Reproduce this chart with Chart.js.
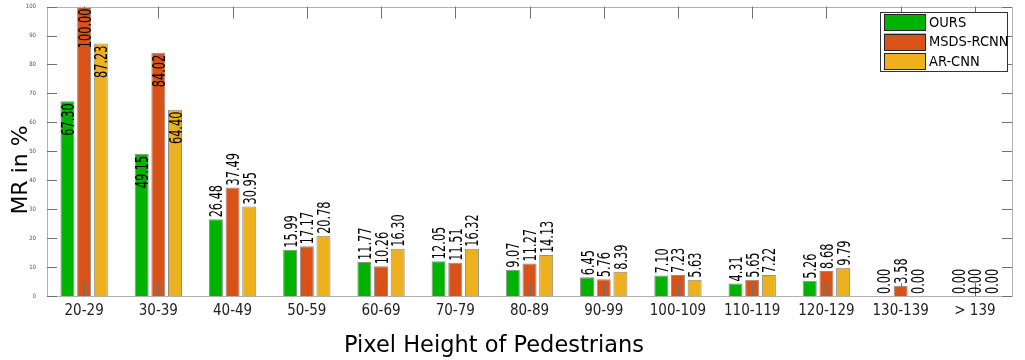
<!DOCTYPE html>
<html><head><meta charset="utf-8">
<script src="https://cdn.jsdelivr.net/npm/chart.js@4"></script>
<style>html,body{margin:0;padding:0;background:#fff}#wrap{width:1025px;height:360px}</style>
</head><body><div id="wrap"><canvas id="c" width="1025" height="360"></canvas></div>
<script>
const categories = ['20-29','30-39','40-49','50-59','60-69','70-79','80-89','90-99','100-109','110-119','120-129','130-139','> 139'];
const seriesNames = ['OURS','MSDS-RCNN','AR-CNN'];
const ours  = [67.30, 49.15, 26.48, 15.99, 11.77, 12.05, 9.07, 6.45, 7.10, 4.31, 5.26, 0.00, 0.00];
const msds  = [100.00, 84.02, 37.49, 17.17, 10.26, 11.51, 11.27, 5.76, 7.23, 5.65, 8.68, 3.58, 0.00];
const arcnn = [87.23, 64.40, 30.95, 20.78, 16.30, 16.32, 14.13, 8.39, 5.63, 7.22, 9.79, 0.00, 0.00];
const yTicks = [0,10,20,30,40,50,60,70,80,90,100];
const xTitle = 'Pixel Height of Pedestrians';
const yTitle = 'MR in %';

const colors = ['#00b300','#d95319','#edb120'];
const FRAME = '#b0b0b0';
const COND = '"DejaVu Sans Condensed", "DejaVu Sans", sans-serif';

const overlay = {
  id: 'overlay',
  afterDatasetsDraw(chart) {
    const ctx = chart.ctx;
    const a = chart.chartArea;
    const xs = chart.scales.x, ys = chart.scales.y;
    ctx.save();
    // frame
    ctx.strokeStyle = FRAME; ctx.lineWidth = 1;
    ctx.beginPath();
    ctx.rect(Math.round(a.left)+0.5, Math.round(a.top)+0.5, Math.round(a.right-a.left), Math.round(a.bottom-a.top));
    ctx.stroke();
    // inward ticks
    ctx.strokeStyle = '#707070';
    ctx.beginPath();
    xs.ticks.forEach((t,i) => {
      const px = Math.round(xs.getPixelForTick(i)) + 0.5;
      ctx.moveTo(px, a.bottom); ctx.lineTo(px, a.bottom - 13);
      ctx.moveTo(px, a.top); ctx.lineTo(px, a.top + 12);
    });
    ys.ticks.forEach((t,i) => {
      const py = Math.round(ys.getPixelForTick(i)) + 0.5;
      ctx.moveTo(a.left, py); ctx.lineTo(a.left + 10, py);
      ctx.moveTo(a.right, py); ctx.lineTo(a.right - 10, py);
    });
    ctx.stroke();
    // value labels
    const fs = 18;
    ctx.fillStyle = '#000';
    ctx.font = fs + 'px ' + COND;
    chart.data.datasets.forEach((ds, di) => {
      const meta = chart.getDatasetMeta(di);
      meta.data.forEach((bar, i) => {
        const v = ds.data[i];
        const txt = v.toFixed(2);
        ctx.save();
        const inside = v > 45;
        ctx.translate(bar.x, inside ? bar.y + 2 : bar.y - 2);
        ctx.rotate(-Math.PI/2);
        ctx.scale(0.7, 1);
        ctx.textAlign = inside ? 'right' : 'left';
        ctx.textBaseline = 'alphabetic';
        ctx.fillText(txt, 0, 0.36*fs);
        ctx.restore();
      });
    });
    // legend
    const lx = 880, ly = 12, lw = 127, lh = 59;
    ctx.fillStyle = '#fff';
    ctx.fillRect(lx, ly, lw, lh);
    ctx.strokeStyle = '#333';
    ctx.strokeRect(lx+0.5, ly+0.5, lw, lh);
    ctx.font = '14.5px ' + COND;
    ctx.textAlign = 'left'; ctx.textBaseline = 'middle';
    chart.data.datasets.forEach((ds, di) => {
      const ry = ly + 2 + di*19.5;
      ctx.fillStyle = ds.backgroundColor;
      ctx.fillRect(lx+4, ry, 42, 17);
      ctx.strokeStyle = '#222';
      ctx.strokeRect(lx+4.5, Math.round(ry)+0.5, 41, 16);
      ctx.fillStyle = '#000';
      ctx.fillText(ds.label, lx+49, ry + 9);
    });
    // axis titles
    ctx.fillStyle = '#000';
    ctx.font = '22.5px "DejaVu Sans"';
    ctx.textAlign = 'center'; ctx.textBaseline = 'alphabetic';
    ctx.fillText(xTitle, 494, 352);
    ctx.save();
    ctx.translate(26.5, 170);
    ctx.rotate(-Math.PI/2);
    ctx.font = '22px "DejaVu Sans"';
    ctx.fillText(yTitle, 0, 0);
    ctx.restore();
    ctx.restore();
  }
};

new Chart(document.getElementById('c'), {
  type: 'bar',
  data: {
    labels: categories,
    datasets: [ours, msds, arcnn].map((d, i) => ({
      label: seriesNames[i],
      data: d,
      backgroundColor: colors[i],
      borderColor: '#8c8c8c',
      borderWidth: 1,
      categoryPercentage: 0.674,
      barPercentage: 0.84
    }))
  },
  options: {
    responsive: false,
    animation: false,
    layout: { padding: { top: 6, right: 13, left: 0, bottom: 0 } },
    plugins: { legend: { display: false }, tooltip: { enabled: false } },
    scales: {
      x: {
        grid: { display: false },
        border: { display: false },
        ticks: { color: '#222', font: { family: COND, size: 15 }, padding: -2, maxRotation: 0, autoSkip: false },
        afterFit: s => { s.height = 64; }
      },
      y: {
        min: 0, max: 100,
        afterBuildTicks: s => { s.ticks = yTicks.map(v => ({ value: v })); },
        grid: { display: false },
        border: { display: false },
        ticks: { color: '#555', font: { family: COND, size: 6 }, padding: 3 },
        afterFit: s => { s.width = 47; }
      }
    }
  },
  plugins: [overlay]
});
</script>
</body></html>
